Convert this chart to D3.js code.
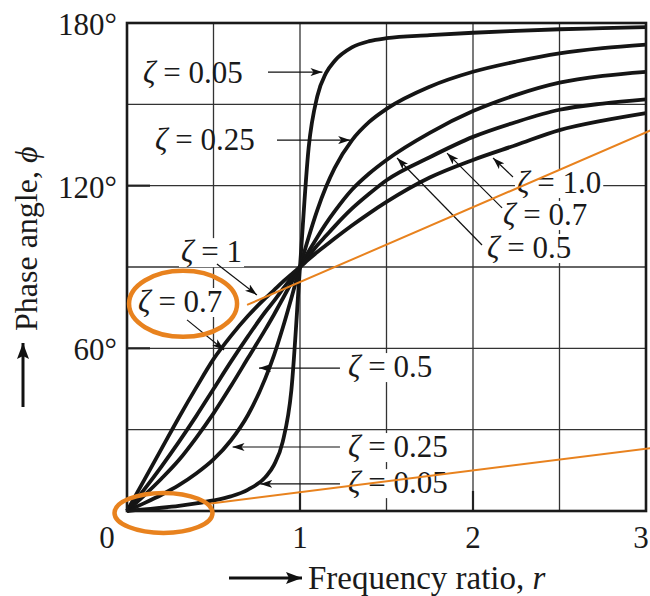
<!DOCTYPE html>
<html>
<head>
<meta charset="utf-8">
<script src="https://cdn.jsdelivr.net/npm/d3@7"></script>
<style>
  html, body { margin: 0; padding: 0; background: #fff; }
  svg { display: block; font-family: "Liberation Serif", "DejaVu Serif", serif; }
</style>
</head>
<body>
<div id="chart"></div>
<script>
// frequency ratio samples (shared by every curve)
const ratios = [0, 0.1, 0.2, 0.3, 0.4, 0.5, 0.6, 0.7, 0.8, 0.85, 0.9, 0.95, 1,
  1.05, 1.1, 1.15, 1.2, 1.3, 1.4, 1.5, 1.75, 2, 2.25, 2.5, 2.75, 3];

// phase angle (deg)
const phiZeta005 = [0, 0.6, 1.2, 1.9, 2.8, 3.9, 5.4, 7.9, 12.5, 17, 25.5, 44.5, 90,
  134, 153, 161.5, 166, 171, 173.3, 174.4, 175.5, 176.4, 177.1, 177.7, 178.1, 178.5];
const phiZeta025 = [0, 2.9, 6, 9.5, 13.8, 19, 26, 35.5, 49, 57.5, 67.5, 78.5, 90,
  101, 111, 119.5, 126.5, 136.7, 143.5, 148.3, 156.5, 162, 165.8, 168.8, 170.7, 172];
const phiZeta05 = [0, 5.8, 12, 18.8, 27, 36, 46, 56.5, 67, 72.5, 78.3, 84.2, 90,
  95.7, 101, 106, 110.5, 118.5, 124.5, 129.5, 139.5, 147.5, 153.5, 158, 160.5, 162];
const phiZeta07 = [0, 8, 16.5, 25.5, 35, 45, 55, 64.5, 73.5, 77.5, 81.8, 86, 90,
  94, 98, 101.5, 105, 111.5, 117, 122, 130.5, 138, 143.5, 148, 150.3, 151.8];
const phiZeta1 = [0, 11.5, 23, 34.5, 45.5, 56, 64.5, 72, 78.5, 81.5, 84.5, 87.3, 90,
  92.8, 95.5, 98, 100.5, 105.3, 109.8, 114, 123, 129.5, 135, 140.5, 144, 146.8];

const series = [phiZeta005, phiZeta025, phiZeta05, phiZeta07, phiZeta1];

// axes
const xGrid = [0, 0.5, 1, 1.5, 2, 2.5, 3];
const yGrid = [0, 30, 60, 90, 120, 150, 180];
const xTickLabels = [0, 1, 2, 3];
const yTickLabels = [60, 120, 180];

// labels: text, anchor (r, phi), leader from -> to (r, phi)
const labels = [
  { z: "0.05", at: [0.092, 157.9], from: [0.815, 161.9], to: [1.13, 161.9], bg: false },
  { z: "0.25", at: [0.162, 133.2], from: [0.867, 136.8], to: [1.29, 136.8], bg: false },
  { z: "1", at: [0.312, 91.8], from: [0.52, 91.1], to: [0.751, 79.7], bg: true },
  { z: "0.7", at: [0.064, 73.4], from: [0.347, 70.5], to: [0.561, 59.4], bg: true },
  { z: "0.5", at: [1.277, 49.4], from: [1.231, 52.7], to: [0.763, 52.7], bg: true },
  { z: "0.25", at: [1.277, 19.9], from: [1.231, 23.6], to: [0.61, 23.6], bg: true },
  { z: "0.05", at: [1.277, 6.6], from: [1.231, 10], to: [0.77, 10], bg: true },
  { z: "1.0", at: [2.254, 117.3], from: [2.231, 123.2], to: [2.116, 130.2], bg: true },
  { z: "0.7", at: [2.173, 105.5], from: [2.168, 111.8], to: [1.85, 132.0], bg: true },
  { z: "0.5", at: [2.081, 93.3], from: [2.052, 98.1], to: [1.561, 130.2], bg: true },
];

// orange highlights
const orangeLines = [
  [[0.694, 76.0], [3.03, 140.5]],
  [[0.462, 2.6], [3.03, 23.2]],
];
const orangeRings = [
  { c: [0.324, 76.4], rx: 54, ry: 33 },
  { c: [0.211, -0.7], rx: 49, ry: 20 },
];

const W = 650, H = 596;
const margin = { top: 23, right: 4, bottom: 85, left: 127 };
const ORANGE = "#e8821e";

const svg = d3.select("#chart").append("svg").attr("width", W).attr("height", H);

const x = d3.scaleLinear().domain([0, 3]).range([margin.left, W - margin.right]);
const y = d3.scaleLinear().domain([0, 180]).range([H - margin.bottom, margin.top]);

// arrow markers
const defs = svg.append("defs");
defs.append("marker")
  .attr("id", "head")
  .attr("viewBox", "0 0 12 8")
  .attr("refX", 12).attr("refY", 4)
  .attr("markerWidth", 12).attr("markerHeight", 8)
  .attr("markerUnits", "userSpaceOnUse")
  .attr("orient", "auto")
  .append("path").attr("d", "M0,0 L12,4 L0,8 L3,4 Z").attr("fill", "#111");
defs.append("marker")
  .attr("id", "bighead")
  .attr("viewBox", "0 0 16 12")
  .attr("refX", 16).attr("refY", 6)
  .attr("markerWidth", 16).attr("markerHeight", 12)
  .attr("markerUnits", "userSpaceOnUse")
  .attr("orient", "auto")
  .append("path").attr("d", "M0,0 L16,6 L0,12 L3,6 Z").attr("fill", "#111");

// grid
svg.append("g")
  .selectAll("line")
  .data(xGrid)
  .join("line")
  .attr("x1", (d) => x(d)).attr("x2", (d) => x(d))
  .attr("y1", y(0)).attr("y2", y(180))
  .attr("stroke", "#333").attr("stroke-width", 1.3);
svg.append("g")
  .selectAll("line")
  .data(yGrid)
  .join("line")
  .attr("x1", x(0)).attr("x2", x(3))
  .attr("y1", (d) => y(d)).attr("y2", (d) => y(d))
  .attr("stroke", "#333").attr("stroke-width", 1.3);

// short inward ticks
svg.append("g")
  .selectAll("line")
  .data(yTickLabels.filter((d) => d < 180))
  .join("line")
  .attr("x1", x(0)).attr("x2", x(0) + 23)
  .attr("y1", (d) => y(d)).attr("y2", (d) => y(d))
  .attr("stroke", "#222").attr("stroke-width", 2.2);
svg.append("g")
  .selectAll("line")
  .data(xTickLabels.filter((d) => d > 0 && d < 3))
  .join("line")
  .attr("x1", (d) => x(d)).attr("x2", (d) => x(d))
  .attr("y1", y(0)).attr("y2", y(0) - 20)
  .attr("stroke", "#222").attr("stroke-width", 2.2);

// label layers
const bgLayer = svg.append("g");
const curveLayer = svg.append("g");
const textLayer = svg.append("g");

// curves
const line = d3.line()
  .x((d) => x(d[0]))
  .y((d) => y(d[1]))
  .curve(d3.curveMonotoneX);

curveLayer.selectAll("path")
  .data(series)
  .join("path")
  .attr("d", (s) => line(ratios.map((r, i) => [r, s[i]])))
  .attr("fill", "none")
  .attr("stroke", "#151515")
  .attr("stroke-width", 3.8)
  .attr("stroke-linejoin", "round");

// curve labels
labels.forEach((l) => {
  const t = textLayer.append("text")
    .attr("x", x(l.at[0]))
    .attr("y", y(l.at[1]))
    .attr("font-size", 31)
    .attr("fill", "#1a1a1a");
  t.append("tspan").attr("font-style", "italic").text("ζ");
  t.append("tspan").text(" = " + l.z);
  if (l.bg) {
    const b = t.node().getBBox();
    bgLayer.append("rect")
      .attr("x", b.x - 2).attr("y", b.y + 4)
      .attr("width", b.width + 4).attr("height", b.height - 6)
      .attr("fill", "#fff");
  }
  textLayer.append("line")
    .attr("x1", x(l.from[0])).attr("y1", y(l.from[1]))
    .attr("x2", x(l.to[0])).attr("y2", y(l.to[1]))
    .attr("stroke", "#111").attr("stroke-width", 1.2)
    .attr("marker-end", "url(#head)");
});

// frame
svg.append("rect")
  .attr("x", x(0)).attr("y", y(180))
  .attr("width", x(3) - x(0)).attr("height", y(0) - y(180))
  .attr("fill", "none").attr("stroke", "#1a1a1a").attr("stroke-width", 2.6);

// tick labels
svg.append("g")
  .selectAll("text")
  .data(yTickLabels)
  .join("text")
  .attr("x", x(0) - 10)
  .attr("y", (d) => y(d) + 12)
  .attr("text-anchor", "end")
  .attr("font-size", 31)
  .attr("fill", "#1a1a1a")
  .text((d) => d + "°");

svg.append("g")
  .selectAll("text")
  .data(xTickLabels)
  .join("text")
  .attr("x", (d) => (d === 0 ? x(d) - 20 : d === 3 ? x(d) - 5 : x(d)))
  .attr("y", y(0) + 37)
  .attr("text-anchor", "middle")
  .attr("font-size", 31)
  .attr("fill", "#1a1a1a")
  .text((d) => d);

// axis titles with arrows
const yTitle = svg.append("text")
  .attr("transform", "translate(37, 331) rotate(-90)")
  .attr("font-size", 32)
  .attr("fill", "#1a1a1a");
yTitle.append("tspan").text("Phase angle, ");
yTitle.append("tspan").attr("font-style", "italic").text("ϕ");

svg.append("line")
  .attr("x1", 23).attr("y1", 407).attr("x2", 23).attr("y2", 343)
  .attr("stroke", "#111").attr("stroke-width", 3)
  .attr("marker-end", "url(#bighead)");

const xTitle = svg.append("text")
  .attr("x", 308).attr("y", 589)
  .attr("font-size", 33)
  .attr("fill", "#1a1a1a");
xTitle.append("tspan").text("Frequency ratio, ");
xTitle.append("tspan").attr("font-style", "italic").text("r");

svg.append("line")
  .attr("x1", 229).attr("y1", 578).attr("x2", 302).attr("y2", 578)
  .attr("stroke", "#111").attr("stroke-width", 3)
  .attr("marker-end", "url(#bighead)");

// orange annotations
svg.append("g")
  .selectAll("line")
  .data(orangeLines)
  .join("line")
  .attr("x1", (d) => x(d[0][0])).attr("y1", (d) => y(d[0][1]))
  .attr("x2", (d) => x(d[1][0])).attr("y2", (d) => y(d[1][1]))
  .attr("stroke", ORANGE).attr("stroke-width", 2);

svg.append("g")
  .selectAll("ellipse")
  .data(orangeRings)
  .join("ellipse")
  .attr("cx", (d) => x(d.c[0])).attr("cy", (d) => y(d.c[1]))
  .attr("rx", (d) => d.rx).attr("ry", (d) => d.ry)
  .attr("fill", "none").attr("stroke", ORANGE).attr("stroke-width", 4.5);
</script>
</body>
</html>
